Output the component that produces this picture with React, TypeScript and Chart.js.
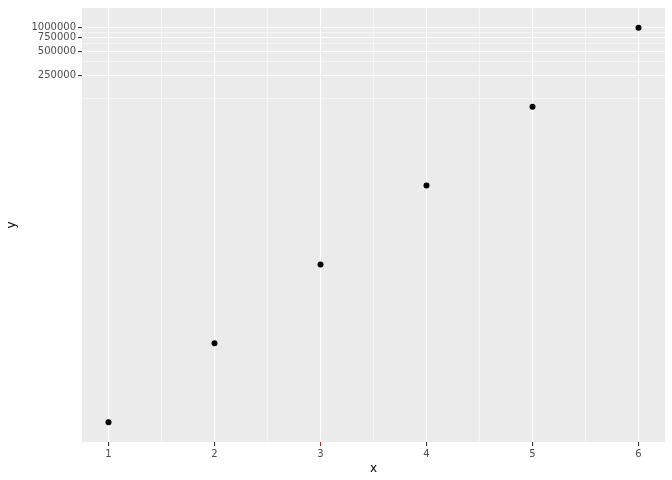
import React, { useEffect, useRef } from "react";
import { Chart, registerables } from "chart.js";

Chart.register(...registerables);

// Data
const xValues = [1, 2, 3, 4, 5, 6];
const yValues = [10, 100, 1000, 10000, 100000, 1000000];

// Axis breaks
const xMajorTicks = [1, 2, 3, 4, 5, 6];
const xMinorTicks = [1.5, 2.5, 3.5, 4.5, 5.5];
const yMajorTicks = [250000, 500000, 750000, 1000000];
const yMinorTicks = [125000, 375000, 625000, 875000];
const highlightedXTick = 3;

const PANEL_BG = "#EBEBEB";
const TICK_TEXT = "#4D4D4D";
const TICK_MARK = "#333333";
const FONT = "'DejaVu Sans', 'Liberation Sans', sans-serif";

const panelBg = {
  id: "panelBg",
  beforeDraw(chart: any) {
    const { ctx, chartArea } = chart;
    ctx.save();
    ctx.fillStyle = PANEL_BG;
    ctx.fillRect(chartArea.left, chartArea.top, chartArea.right - chartArea.left, chartArea.bottom - chartArea.top);
    ctx.restore();
  },
};

export default function App() {
  const ref = useRef<HTMLCanvasElement | null>(null);

  useEffect(() => {
    if (!ref.current) return;
    const xMin = Math.min(...xValues);
    const xMax = Math.max(...xValues);
    const xPad = (xMax - xMin) * 0.05;
    const lyMin = Math.log10(Math.min(...yValues));
    const lyMax = Math.log10(Math.max(...yValues));
    const lyPad = (lyMax - lyMin) * 0.05;

    const xAll = [...xMajorTicks, ...xMinorTicks].sort((a, b) => a - b);
    const yAll = [...yMajorTicks, ...yMinorTicks].sort((a, b) => a - b);

    const chart = new Chart(ref.current, {
      type: "scatter",
      data: {
        datasets: [
          {
            data: xValues.map((x, i) => ({ x, y: yValues[i] })),
            backgroundColor: "#000000",
            borderColor: "#000000",
            pointRadius: 3,
            pointBorderWidth: 0,
          },
        ],
      },
      options: {
        responsive: false,
        animation: false,
        layout: { padding: { top: 7, right: 7, left: 0, bottom: 0 } },
        plugins: { legend: { display: false }, tooltip: { enabled: false } },
        scales: {
          x: {
            type: "linear",
            min: xMin - xPad,
            max: xMax + xPad,
            border: { display: false },
            afterBuildTicks: (scale: any) => {
              scale.ticks = xAll.map((v) => ({ value: v }));
            },
            afterFit: (scale: any) => {
              scale.height = 38;
            },
            grid: {
              color: "#FFFFFF",
              lineWidth: (ctx: any) => (xMajorTicks.includes(ctx.tick?.value) ? 1.1 : 0.55),
              drawTicks: true,
              tickLength: 4,
              tickWidth: 1.1,
              tickColor: (ctx: any) =>
                xMajorTicks.includes(ctx.tick?.value)
                  ? ctx.tick?.value === highlightedXTick
                    ? "#FF0000"
                    : TICK_MARK
                  : "rgba(0,0,0,0)",
            },
            ticks: {
              autoSkip: false,
              maxRotation: 0,
              padding: 2,
              color: TICK_TEXT,
              font: { family: FONT, size: 10 },
              callback: (v: any) => (xMajorTicks.includes(Number(v)) ? String(v) : ""),
            },
            title: {
              display: true,
              text: "x",
              color: "#000000",
              font: { family: FONT, size: 12 },
              padding: { top: 0, bottom: 4 },
            },
          },
          y: {
            type: "logarithmic",
            min: Math.pow(10, lyMin - lyPad),
            max: Math.pow(10, lyMax + lyPad),
            border: { display: false },
            afterBuildTicks: (scale: any) => {
              scale.ticks = yAll.map((v) => ({ value: v }));
            },
            afterFit: (scale: any) => {
              scale.width = 82;
            },
            grid: {
              color: "#FFFFFF",
              lineWidth: (ctx: any) => (yMajorTicks.includes(ctx.tick?.value) ? 1.1 : 0.55),
              drawTicks: true,
              tickLength: 4,
              tickWidth: 1.1,
              tickColor: (ctx: any) =>
                yMajorTicks.includes(ctx.tick?.value) ? TICK_MARK : "rgba(0,0,0,0)",
            },
            ticks: {
              autoSkip: false,
              padding: 2,
              color: TICK_TEXT,
              font: { family: FONT, size: 10 },
              callback: (v: any) => (yMajorTicks.includes(Number(v)) ? String(v) : ""),
            },
            title: {
              display: true,
              text: "y",
              color: "#000000",
              font: { family: FONT, size: 12 },
              padding: { top: 5, bottom: 0 },
            },
          },
        },
      },
      plugins: [panelBg],
    } as any);
    return () => chart.destroy();
  }, []);

  return (
    <div style={{ position: "absolute", left: 0, top: 0, width: 672, height: 480 }}>
      <canvas ref={ref} width={672} height={480} style={{ display: "block" }} />
    </div>
  );
}
